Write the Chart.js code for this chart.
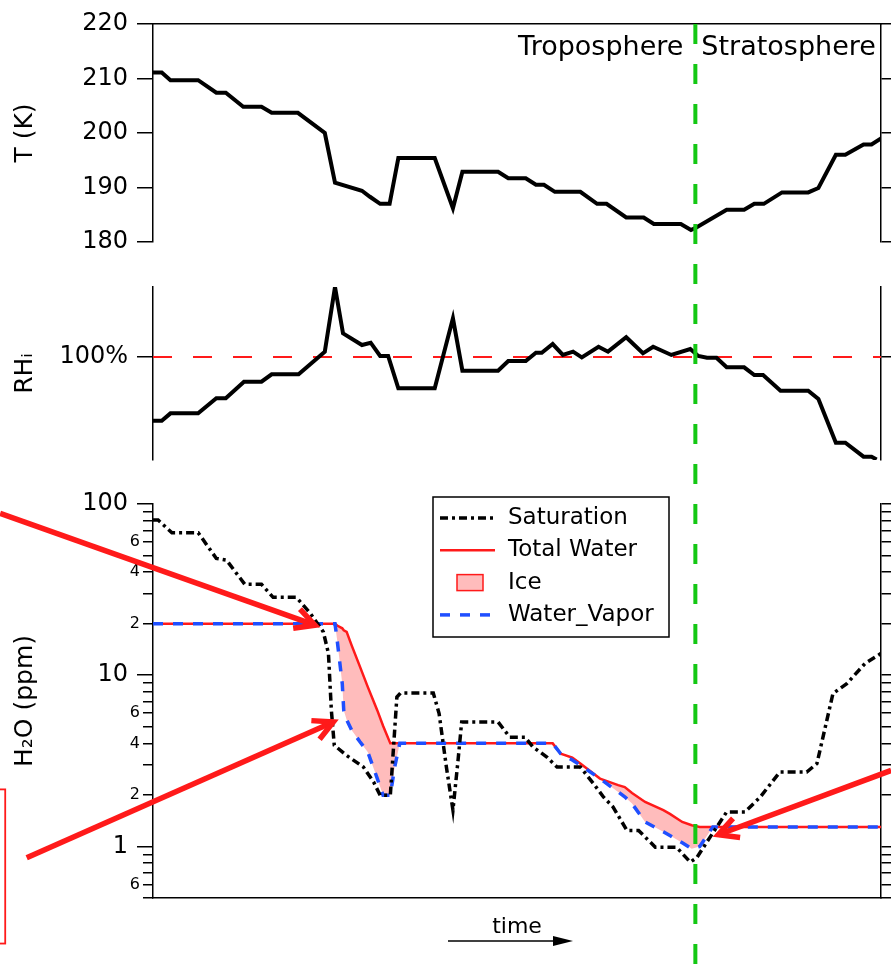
<!DOCTYPE html>
<html>
<head>
<meta charset="utf-8">
<script src="https://cdn.jsdelivr.net/npm/chart.js@4.4.1/dist/chart.umd.min.js"></script>
<style>
html, body { margin: 0; padding: 0; background: #fff; }
#page { position: relative; width: 891px; height: 974px; overflow: hidden; }
canvas { position: absolute; left: 0; }
#tempCanvas { top: 0; }
#rhCanvas { top: 262px; }
#waterCanvas { top: 0; z-index: 2; }
</style>
</head>
<body>
<div id="page">
  <canvas id="tempCanvas" width="891" height="270"></canvas>
  <canvas id="rhCanvas" width="891" height="226"></canvas>
  <canvas id="waterCanvas" width="891" height="974"></canvas>
</div>
<script>
// time runs 0..100 across the panels
const tempTime = [0.0, 1.2, 2.4, 6.2, 8.7, 10.0, 12.4, 14.9, 16.3, 19.9, 23.6, 25.0, 28.7, 29.8, 31.2, 32.5, 33.7, 38.7, 41.2, 42.5,
  47.4, 48.8, 51.2, 52.6, 53.7, 55.2, 58.7, 61.0, 62.3, 65.0, 67.4, 68.8, 72.5, 73.9, 74.7, 78.8, 81.2, 82.6, 83.9, 86.4,
  90.0, 91.4, 93.8, 95.1, 97.6, 98.7, 100];
const tempK = [211.1, 211.1, 209.7, 209.7, 207.4, 207.4, 204.8, 204.8, 203.7, 203.7, 200.0, 190.9, 189.4, 188.3, 187.0, 187.0, 195.4, 195.4, 186.2, 192.9,
  192.9, 191.7, 191.7, 190.5, 190.5, 189.2, 189.2, 187.0, 187.0, 184.5, 184.5, 183.3, 183.3, 182.2, 182.7, 185.9, 185.9, 187.0, 187.0, 189.1,
  189.1, 189.9, 196.0, 196.0, 197.9, 197.9, 199.0];

const rhTime = [0.0, 1.2, 2.4, 6.2, 8.7, 10.0, 12.5, 14.9, 16.3, 20.0, 23.6, 25.0, 26.1, 28.7, 29.9, 31.2, 32.3, 33.7, 38.7, 41.2,
  42.5, 47.4, 48.8, 51.2, 52.6, 53.4, 54.9, 56.3, 57.7, 58.9, 61.2, 62.5, 65.0, 67.3, 68.7, 71.2, 73.8, 74.9, 76.1, 77.4,
  78.8, 81.2, 82.6, 83.8, 86.2, 90.0, 91.4, 93.8, 95.1, 97.6, 98.7, 99.4];
const rhPercent = [38.2, 38.2, 45.3, 45.3, 59.9, 59.9, 76.0, 76.0, 83.2, 83.2, 105.2, 168, 123.0, 111.7, 113.9, 101.0, 101.0, 69.6, 69.6, 137.6,
  86.7, 86.7, 96.1, 96.1, 104.2, 104.2, 112.6, 102.0, 105.2, 99.7, 110.0, 105.2, 119.2, 103.6, 110.0, 102.0, 107.8, 101.0, 99.3, 99.3,
  90.0, 90.0, 82.5, 82.5, 67.3, 67.3, 59.2, 16.8, 16.8, 3.2, 3.2, 0.5];

const satTime = [0.0, 0.7, 2.6, 6.2, 8.7, 10.1, 12.6, 14.9, 16.5, 19.7, 21.6, 23.4, 24.1, 24.5, 24.9, 26.6, 28.9, 30.3, 31.2, 32.6,
  33.5, 34.0, 38.5, 39.3, 40.3, 41.2, 41.9, 42.4, 47.4, 49.0, 51.1, 52.2, 54.1, 55.5, 58.7, 60.5, 61.9, 63.2, 65.1, 66.7,
  69.0, 71.9, 73.8, 74.7, 76.5, 78.8, 81.3, 83.4, 86.1, 89.8, 91.2, 93.4, 95.3, 97.8, 100];
const satPpm = [80.6, 80.6, 68, 68, 48.1, 47, 34, 34, 28.5, 28.5, 23, 17.9, 13.4, 6.24, 3.9, 3.4, 2.91, 2.38, 1.99, 1.99,
  7.46, 7.88, 7.88, 5.97, 2.91, 1.63, 3.18, 5.33, 5.33, 4.35, 4.35, 3.81, 3.33, 2.91, 2.91, 2.33, 1.94, 1.70, 1.24, 1.24,
  0.99, 0.99, 0.81, 0.86, 1.13, 1.59, 1.59, 1.94, 2.72, 2.72, 3.05, 7.81, 8.93, 11.7, 13.4];

const waterTime = [0.0, 25.0, 25.3, 26.0, 26.2, 26.6, 27.3, 28.4, 29.5, 30.8, 31.6, 32.6, 33.2, 33.9, 54.9, 56.0, 57.6, 58.7, 61.4, 63.9,
  64.8, 65.8, 67.6, 70.1, 71.0, 72.7, 74.0, 75.1, 76.9, 100];
const totalPpm = [20, 20, 19.5, 18.8, 18.3, 17.9, 14.9, 11.3, 8.55, 6.25, 5.07, 4.0, 4.0, 4.0, 4.0, 3.48, 3.3, 3.05, 2.49, 2.28,
  2.22, 2.05, 1.82, 1.63, 1.55, 1.39, 1.33, 1.30, 1.30, 1.30];
const vaporPpm = [20, 20, 16, 8.9, 6.24, 5.5, 4.77, 4.1, 3.56, 2.5, 1.99, 1.99, 2.91, 4.0, 4.0, 3.48, 3.2, 2.98, 2.49, 2.08,
  1.95, 1.78, 1.39, 1.22, 1.16, 1.05, 0.97, 1.0, 1.30, 1.30];

const tempTicks = [180, 190, 200, 210, 220];
const rhTicks = [100];
const ppmMajor = [1, 10, 100];
const ppmMinor = [0.5, 0.6, 0.7, 0.8, 0.9, 2, 3, 4, 5, 6, 7, 8, 9, 20, 30, 40, 50, 60, 70, 80, 90];
const ppmLabelled = [0.6, 2, 4, 6, 20, 40, 60];
const tropopauseTime = 74.5;
const zoneLabels = ['Troposphere', 'Stratosphere'];

// red pointers, [time, ppm] for tail and tip
const pointers = [
  { from: [-21.0, 88.2], to: [22.25, 19.6] },
  { from: [-17.35, 0.859], to: [24.77, 5.33] },
  { from: [101.4, 2.78], to: [77.65, 1.17] }
];
const noteBox = { t0: -40, t1: -20.3, ppmTop: 2.154, ppmBottom: 0.271 };

const INK = '#000';
const RED = '#ff1a1a';
const BLUE = '#1f4fff';
const GREEN = '#14c814';
const ICE = '#ffbcbc';
const FONT = '"DejaVu Sans", sans-serif';

Chart.defaults.font.family = FONT;
Chart.defaults.color = INK;

// the small mantissa labels are single digits, all the same width
const measure = document.createElement('canvas').getContext('2d');
measure.font = '16px ' + FONT;
const digitWidth = measure.measureText('6').width;

const xy = (xs, ys) => xs.map((x, i) => ({ x: x, y: ys[i] }));
const setTicks = vals => scale => { scale.ticks = vals.map(v => ({ value: v })); };

function leftAxis(min, max, vals, title, extra) {
  return Object.assign({
    min: min, max: max, weight: 1,
    afterBuildTicks: setTicks(vals),
    ticks: { padding: 9, font: { size: 24 }, autoSkip: false },
    grid: { drawOnChartArea: false, tickLength: 16, color: INK, lineWidth: 1.5 },
    border: { color: INK, width: 1.5 },
    title: { display: true, text: title, font: { size: 25 }, padding: { top: 10 } },
    afterFit: s => { s.width = 153; }
  }, extra || {});
}
function rightAxis(min, max, vals, extra) {
  return Object.assign({
    position: 'right', min: min, max: max,
    afterBuildTicks: setTicks(vals),
    ticks: { display: false },
    grid: { drawOnChartArea: false, tickLength: 10, color: INK, lineWidth: 1.5 },
    border: { color: INK, width: 1.5 },
    afterFit: s => { s.width = 10; }
  }, extra || {});
}
const baseOptions = {
  responsive: false,
  animation: false,
  events: [],
  plugins: { legend: { display: false }, tooltip: { enabled: false } }
};

// labels either side of the tropopause
const zonePlugin = {
  id: 'zones',
  afterDraw(chart) {
    const ctx = chart.ctx;
    const x = chart.scales.x.getPixelForValue(tropopauseTime);
    ctx.save();
    ctx.fillStyle = INK;
    ctx.font = '27px ' + FONT;
    ctx.textBaseline = 'alphabetic';
    ctx.textAlign = 'right';
    ctx.fillText(zoneLabels[0], x - 12, chart.chartArea.top + 31);
    ctx.textAlign = 'left';
    ctx.fillText(zoneLabels[1], x + 6, chart.chartArea.top + 31);
    ctx.restore();
  }
};

const tempChart = new Chart(document.getElementById('tempCanvas'), {
  type: 'line',
  data: {
    datasets: [{
      label: 'T', data: xy(tempTime, tempK),
      borderColor: INK, borderWidth: 4, pointRadius: 0, tension: 0
    }]
  },
  options: Object.assign({}, baseOptions, {
    layout: { padding: { top: 24, bottom: 28, left: 0, right: 0 } },
    scales: {
      x: {
        type: 'linear', position: 'top', min: 0, max: 100,
        ticks: { display: false }, grid: { display: false, drawTicks: false },
        border: { color: INK, width: 1.5 },
        afterFit: s => { s.height = 0; }
      },
      y: leftAxis(180, 220, tempTicks, 'T (K)'),
      yRight: rightAxis(180, 220, tempTicks)
    }
  }),
  plugins: [zonePlugin]
});

new Chart(document.getElementById('rhCanvas'), {
  type: 'line',
  data: {
    datasets: [{
      label: 'RHi', data: xy(rhTime, rhPercent), order: 1,
      borderColor: INK, borderWidth: 4, pointRadius: 0, tension: 0
    }, {
      label: 'saturation', data: xy([0, 100], [rhTicks[0], rhTicks[0]]), order: 2,
      borderColor: RED, borderWidth: 2, borderDash: [19, 21], pointRadius: 0
    }]
  },
  options: Object.assign({}, baseOptions, {
    layout: { padding: { top: 25, bottom: 28, left: 0, right: 0 } },
    scales: {
      x: { type: 'linear', display: false, min: 0, max: 100 },
      y: leftAxis(0, 168, rhTicks, 'RHᵢ', {
        ticks: { padding: 9, font: { size: 24 }, autoSkip: false, callback: v => v + '%' }
      }),
      yRight: rightAxis(0, 168, rhTicks)
    }
  })
});

function arrowLine(ctx, x1, y1, x2, y2, head) {
  const a = Math.atan2(y2 - y1, x2 - x1);
  ctx.beginPath();
  ctx.moveTo(x1, y1);
  ctx.lineTo(x2, y2);
  ctx.stroke();
  ctx.beginPath();
  ctx.moveTo(x2 - head * Math.cos(a - 0.48), y2 - head * Math.sin(a - 0.48));
  ctx.lineTo(x2, y2);
  ctx.lineTo(x2 - head * Math.cos(a + 0.48), y2 - head * Math.sin(a + 0.48));
  ctx.stroke();
}

const overlayPlugin = {
  id: 'overlay',
  afterDraw(chart) {
    const ctx = chart.ctx;
    const sx = chart.scales.x, sy = chart.scales.y;
    const area = chart.chartArea;
    ctx.save();

    // legend
    const ds = chart.data.datasets;
    const lx = 433, ly = 497, lw = 236, lh = 140;
    ctx.fillStyle = '#fff';
    ctx.fillRect(lx, ly, lw, lh);
    ctx.strokeStyle = INK;
    ctx.lineWidth = 1.5;
    ctx.strokeRect(lx, ly, lw, lh);
    const items = [
      { label: ds[0].label, line: ds[0] },
      { label: ds[1].label, line: ds[1] },
      { label: 'Ice', box: ds[1] },
      { label: ds[2].label, line: ds[2] }
    ];
    ctx.font = '23px ' + FONT;
    ctx.textBaseline = 'middle';
    ctx.textAlign = 'left';
    items.forEach((it, i) => {
      const y = ly + 21 + i * 32.3;
      if (it.line) {
        ctx.beginPath();
        ctx.setLineDash(it.line.borderDash || []);
        ctx.strokeStyle = it.line.borderColor;
        ctx.lineWidth = it.line.borderWidth;
        ctx.moveTo(lx + 7, y);
        ctx.lineTo(lx + 62, y);
        ctx.stroke();
        ctx.setLineDash([]);
      } else {
        ctx.fillStyle = it.box.fill.above;
        ctx.fillRect(lx + 24, y - 8, 26, 16);
        ctx.strokeStyle = it.box.borderColor;
        ctx.lineWidth = 1.5;
        ctx.strokeRect(lx + 24, y - 8, 26, 16);
      }
      ctx.fillStyle = INK;
      ctx.fillText(it.label, lx + 75, y);
    });

    // time arrow under the axis
    const mid = (area.left + area.right) / 2;
    const ty = area.bottom + 43;
    ctx.strokeStyle = INK;
    ctx.fillStyle = INK;
    ctx.lineWidth = 1.5;
    ctx.beginPath();
    ctx.moveTo(mid - 69, ty);
    ctx.lineTo(mid + 40, ty);
    ctx.stroke();
    ctx.beginPath();
    ctx.moveTo(mid + 56, ty);
    ctx.lineTo(mid + 36, ty - 5);
    ctx.lineTo(mid + 36, ty + 5);
    ctx.closePath();
    ctx.fill();

    // red pointers and box
    ctx.strokeStyle = RED;
    ctx.lineWidth = 5.5;
    ctx.lineCap = 'butt';
    ctx.lineJoin = 'miter';
    pointers.forEach(p => {
      arrowLine(ctx,
        sx.getPixelForValue(p.from[0]), sy.getPixelForValue(p.from[1]),
        sx.getPixelForValue(p.to[0]), sy.getPixelForValue(p.to[1]), 22);
    });
    ctx.lineWidth = 1.8;
    const bx0 = sx.getPixelForValue(noteBox.t0), bx1 = sx.getPixelForValue(noteBox.t1);
    const by0 = sy.getPixelForValue(noteBox.ppmTop), by1 = sy.getPixelForValue(noteBox.ppmBottom);
    ctx.strokeRect(bx0, by0, bx1 - bx0, by1 - by0);

    // tropopause
    const gx = sx.getPixelForValue(tropopauseTime);
    ctx.strokeStyle = GREEN;
    ctx.lineWidth = 4;
    ctx.setLineDash([20, 20]);
    ctx.beginPath();
    ctx.moveTo(gx, tempChart.chartArea.top);
    ctx.lineTo(gx, chart.height);
    ctx.stroke();
    ctx.restore();
  }
};

const mantissa = v => Math.round(v / Math.pow(10, Math.floor(Math.log10(v) + 1e-9)));
const allPpmTicks = ppmMinor.concat(ppmMajor).sort((a, b) => a - b);

new Chart(document.getElementById('waterCanvas'), {
  type: 'line',
  data: {
    datasets: [{
      label: 'Saturation', data: xy(satTime, satPpm), order: 1,
      borderColor: INK, borderWidth: 3.5, borderDash: [8, 4, 3, 4], pointRadius: 0, tension: 0
    }, {
      label: 'Total Water', data: xy(waterTime, totalPpm), order: 3,
      borderColor: RED, borderWidth: 2.5, pointRadius: 0, tension: 0,
      fill: { target: 2, above: ICE, below: ICE }
    }, {
      label: 'Water_Vapor', data: xy(waterTime, vaporPpm), order: 2,
      borderColor: BLUE, borderWidth: 3.5, borderDash: [10, 10], pointRadius: 0, tension: 0
    }]
  },
  options: Object.assign({}, baseOptions, {
    layout: { padding: { top: 504, bottom: 0, left: 0, right: 0 } },
    scales: {
      x: {
        type: 'linear', position: 'bottom', min: 0, max: 100,
        ticks: { display: false }, grid: { display: false, drawTicks: false },
        border: { color: INK, width: 1.5 },
        title: { display: true, text: 'time', font: { size: 22 }, padding: { top: 0, bottom: 34 } },
        afterFit: s => { s.height = 76; }
      },
      y: leftAxis(0.5, 100, allPpmTicks, 'H₂O (ppm)', {
        type: 'logarithmic',
        ticks: { padding: 9, font: { size: 24 }, autoSkip: false,
          callback: v => ppmMajor.includes(v) ? String(v) : '' },
        grid: { drawOnChartArea: false, tickLength: 16, color: INK, lineWidth: 1.5,
          tickColor: c => (c.tick && ppmMajor.includes(c.tick.value)) ? INK : 'rgba(0,0,0,0)' }
      }),
      // minor ticks and their single-digit labels; mirrored so the labels are not clipped
      yMinor: {
        type: 'logarithmic', position: 'left', min: 0.5, max: 100, weight: 0,
        afterBuildTicks: setTicks(ppmMinor),
        ticks: { mirror: true, padding: -(13 + digitWidth), font: { size: 16 }, autoSkip: false,
          callback: v => ppmLabelled.includes(v) ? String(mantissa(v)) : '' },
        grid: { drawOnChartArea: false, tickLength: 10, color: INK, lineWidth: 1.5 },
        border: { display: false },
        afterFit: s => { s.width = 0; }
      },
      yRight: rightAxis(0.5, 100, allPpmTicks, { type: 'logarithmic' })
    }
  }),
  plugins: [overlayPlugin]
});
</script>
</body>
</html>
